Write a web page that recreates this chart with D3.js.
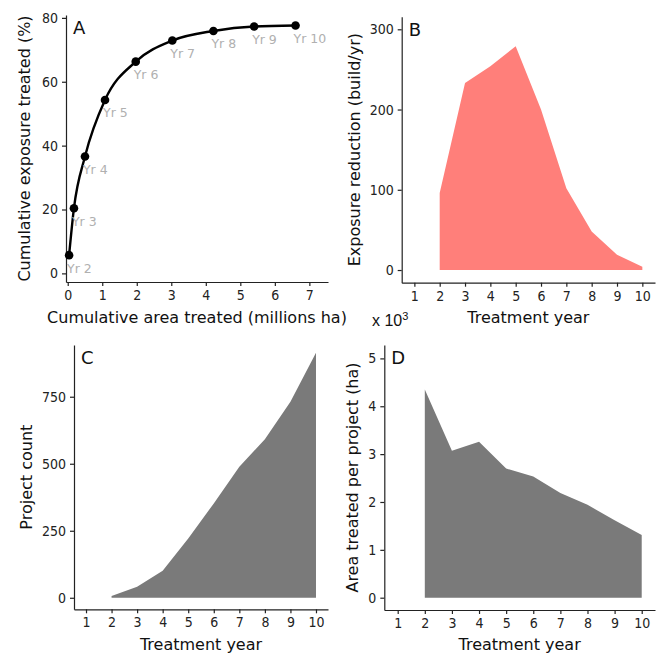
<!DOCTYPE html>
<html>
<head>
<meta charset="utf-8">
<script src="https://cdn.jsdelivr.net/npm/d3@7"></script>
<style>
  body { margin: 0; background: #fff; }
  svg { display: block; font-family: "DejaVu Sans", Verdana, sans-serif; }
  .axis path, .axis line { stroke: #222; stroke-width: 1.2px; }
  .axis text { font-size: 14px; fill: #222; font-family: "DejaVu Sans Condensed", "DejaVu Sans", sans-serif; font-stretch: condensed; }
  .title { font-size: 16px; fill: #111; }
  .panel { font-size: 18px; fill: #111; }
  .yr { font-size: 12.5px; fill: #b0b0b0; }
</style>
</head>
<body>
<div id="vis"></div>
<script>
const years = [2, 3, 4, 5, 6, 7, 8, 9, 10]
const cumArea = [0.04, 0.18, 0.5, 1.08, 1.97, 3.03, 4.22, 5.4, 6.6]
const cumExposure = [5.7, 20.4, 36.6, 54.3, 66.3, 72.9, 75.9, 77.3, 77.6]
const exposureReduction = [96, 233, 254, 279, 200, 102, 48, 19, 4]
const projectCount = [7, 41, 101, 221, 352, 489, 591, 731, 914]
const areaPerProject = [4350, 3070, 3260, 2700, 2530, 2190, 1940, 1620, 1310]
const yearTicks = [1, 2, 3, 4, 5, 6, 7, 8, 9, 10]

const svg = d3.select('#vis')
    .append('svg')
    .attr('width', 664)
    .attr('height', 657);

svg.append('rect').attr('width', 664).attr('height', 657).attr('fill', '#fff');

function axes(x, y, xTicks, yTicks, yFormat){
    const [x0] = x.range(), [y0] = y.range();
    svg.append('g')
        .attr('class', 'axis')
        .attr('transform', `translate(0,${y0})`)
        .call(d3.axisBottom(x).tickValues(xTicks).tickSize(4).tickSizeOuter(0).tickPadding(4));
    svg.append('g')
        .attr('class', 'axis')
        .attr('transform', `translate(${x0},0)`)
        .call(d3.axisLeft(y).tickValues(yTicks).tickSize(4).tickSizeOuter(0).tickPadding(4).tickFormat(yFormat || d3.format('d')));
}

function titles(x, y, xLab, yLab, xTitleY, yTitleX, letter){
    const [xa, xb] = x.range(), [ya, yb] = y.range();
    svg.append('text')
        .attr('class', 'title')
        .attr('x', (xa + xb) / 2)
        .attr('y', xTitleY)
        .attr('text-anchor', 'middle')
        .attr('dominant-baseline', 'middle')
        .text(xLab);
    svg.append('text')
        .attr('class', 'title')
        .attr('transform', `translate(${yTitleX},${(ya + yb) / 2}) rotate(-90)`)
        .attr('text-anchor', 'middle')
        .attr('dominant-baseline', 'middle')
        .text(yLab);
    svg.append('text')
        .attr('class', 'panel')
        .attr('x', xa + 7)
        .attr('y', yb + 14)
        .attr('dominant-baseline', 'middle')
        .text(letter);
}

// Panel A
const xA = d3.scaleLinear().domain([-0.05, 7.54]).range([66, 328]);
const yA = d3.scaleLinear().domain([-2.7, 80.9]).range([282, 15]);
axes(xA, yA, d3.range(0, 8), [0, 20, 40, 60, 80]);
titles(xA, yA, 'Cumulative area treated (millions ha)', 'Cumulative exposure treated (%)', 318, 25, 'A');

const ptsA = years.map((yr, i) => ({yr, x: cumArea[i], y: cumExposure[i]}));
svg.append('path')
    .datum(ptsA)
    .attr('fill', 'none')
    .attr('stroke', '#000')
    .attr('stroke-width', 2.4)
    .attr('d', d3.line().x(d => xA(d.x)).y(d => yA(d.y)).curve(d3.curveMonotoneX));
svg.selectAll('.ptA')
    .data(ptsA)
    .join('circle')
    .attr('class', 'ptA')
    .attr('cx', d => xA(d.x))
    .attr('cy', d => yA(d.y))
    .attr('r', 4.3)
    .attr('fill', '#000');
svg.selectAll('.yr')
    .data(ptsA)
    .join('text')
    .attr('class', 'yr')
    .attr('x', d => xA(d.x) - 2)
    .attr('y', d => yA(d.y) + 14)
    .attr('dominant-baseline', 'middle')
    .text(d => `Yr ${d.yr}`);

// Panel B
const xB = d3.scaleLinear().domain([0.5, 10.5]).range([401.7, 655]);
const yB = d3.scaleLinear().domain([-15.8, 315.7]).range([282.7, 16.7]);
svg.append('path')
    .datum(years.map((yr, i) => ({yr, v: exposureReduction[i]})))
    .attr('fill', '#FF7F7A')
    .attr('d', d3.area().x(d => xB(d.yr)).y0(yB(0)).y1(d => yB(d.v)));
axes(xB, yB, yearTicks, [0, 100, 200, 300]);
titles(xB, yB, 'Treatment year', 'Exposure reduction (build/yr)', 318, 355, 'B');

// Panel C
const xC = d3.scaleLinear().domain([0.53, 10.47]).range([74, 328]);
const yC = d3.scaleLinear().domain([-43, 943]).range([609.3, 345]);
svg.append('path')
    .datum(years.map((yr, i) => ({yr, v: projectCount[i]})))
    .attr('fill', '#7A7A7A')
    .attr('d', d3.area().x(d => xC(d.yr)).y0(yC(0)).y1(d => yC(d.v)));
axes(xC, yC, yearTicks, [0, 250, 500, 750]);
titles(xC, yC, 'Treatment year', 'Project count', 645, 27, 'C');

// Panel D
const xD = d3.scaleLinear().domain([0.506, 10.49]).range([384.3, 655]);
const yD = d3.scaleLinear().domain([-257, 5280]).range([610, 345]);
svg.append('path')
    .datum(years.map((yr, i) => ({yr, v: areaPerProject[i]})))
    .attr('fill', '#7A7A7A')
    .attr('d', d3.area().x(d => xD(d.yr)).y0(yD(0)).y1(d => yD(d.v)));
axes(xD, yD, yearTicks, [0, 1000, 2000, 3000, 4000, 5000], d => d / 1000);
titles(xD, yD, 'Treatment year', 'Area treated per project (ha)', 645, 353, 'D');

const mult = svg.append('text')
    .attr('x', 372)
    .attr('y', 326)
    .attr('font-family', 'Liberation Sans, Arial, sans-serif')
    .attr('font-size', 16)
    .attr('fill', '#111');
mult.append('tspan').text('x 10');
mult.append('tspan').attr('dy', -6).attr('font-size', 11).text('3');
</script>
</body>
</html>
